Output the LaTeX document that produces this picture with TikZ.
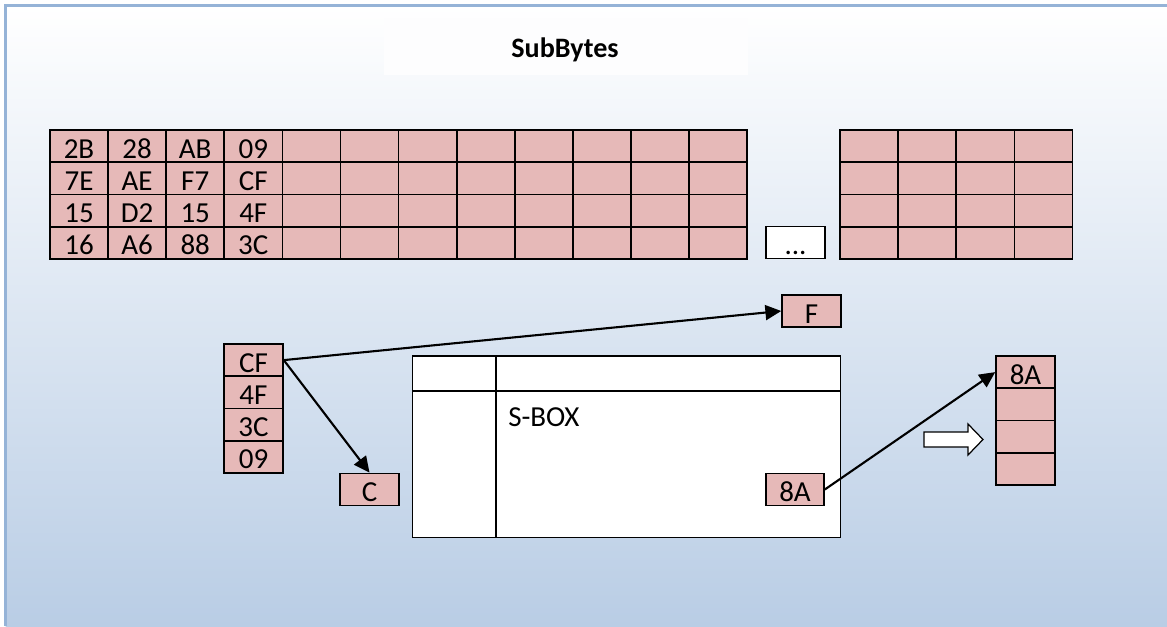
\documentclass[tikz,border=0pt]{standalone}
\usepackage{fontspec}
\setmainfont{Carlito}
\usepackage{tikz}
\usetikzlibrary{positioning,calc,arrows.meta}
\definecolor{cellpink}{HTML}{E6B9B8}
\definecolor{framebl}{HTML}{95B3D7}
\definecolor{bgblue}{HTML}{B9CDE5}

\begin{document}
\begin{tikzpicture}[x=0.02cm,y=-0.02cm,>={Triangle[length=9pt,width=8.5pt]},
    cell/.style={draw,fill=cellpink,line width=0.9pt,inner sep=0pt,
      minimum width=1.16cm,text height=0.565cm,text depth=0.08cm,
      font=\fontsize{16.5}{18}\selectfont},
    box/.style={draw,fill=white,line width=0.9pt,inner sep=0pt}]

  \useasboundingbox (0,0) rectangle (1167,626);
  % background and frame
  \shade[top color=white,bottom color=bgblue] (5.5,5.5) rectangle (1167,626);
  \draw[framebl,line width=1.6pt] (5.5,626) -- (5.5,5.5) -- (1167,5.5);
  \fill[white!98!framebl] (384,18) rectangle (748,75);
  \node[anchor=base,inner sep=0pt,font=\bfseries\fontsize{16}{18}\selectfont]
    (title) at (565,57) {SubBytes};

  % state
  \foreach \row [count=\j from 0] in {{2B,28,AB,09},{7E,AE,F7,CF},{15,D2,15,4F},{16,A6,88,3C}}
    \foreach \val [count=\i from 0] in \row
      \node[cell] (s-\j-\i) at (79+58.1*\i,146.1+32.25*\j) {\val};
  \foreach \j in {0,...,3}
    \foreach \i in {4,...,11}
      \node[cell] (s-\j-\i) at (79+58.1*\i,146.1+32.25*\j) {};
  \node[cell,fill=white,minimum width=1.18cm] (dots) at (795.5,242.5) {...};
  \foreach \j in {0,...,3}
    \foreach \i in {0,...,3}
      \node[cell] (t-\j-\i) at (869.1+58.1*\i,146.1+32.25*\j) {};

  % one column
  \foreach \val [count=\j from 0] in {CF,4F,3C,09}
    \node[cell,minimum width=1.18cm] (col-\j) at (253.5,360.1+32.25*\j) {\val};
  \node[cell,minimum width=1.18cm] (f) at (811.5,311) {F};
  \node[cell,minimum width=1.18cm] (c) at (369.5,489.5) {C};

  % s-box table
  \node[box,minimum width=8.56cm,minimum height=3.63cm] (sbox) at (626.5,446.75) {};
  \draw[line width=0.9pt] ($(sbox.north west)+(0,36)$) -- ($(sbox.north east)+(0,36)$);
  \draw[line width=0.9pt] ($(sbox.north west)+(84,0)$) -- ($(sbox.south west)+(84,0)$);
  \node[anchor=base west,inner sep=0pt,font=\fontsize{16.5}{18}\selectfont]
    (sboxlabel) at (508,426) {S-BOX};
  \node[cell] (sub) at (795,489.5) {8A};

  % result column
  \node[cell,minimum width=1.18cm] (out-0) at (1025.5,372.1) {8A};
  \foreach \j in {1,2,3}
    \node[cell,minimum width=1.18cm] (out-\j) at (1025.5,372.1+32.25*\j) {};
  \draw[fill=white,line width=0.7pt] (924,432) -- (968,432) -- (968,424)
    -- (983,439.5) -- (968,455) -- (968,447) -- (924,447) -- cycle;

  \path[->,line width=1.2pt]
    (col-0.east) edge (f.west)
    (col-0.east) edge (c.north)
    (sub.east) edge (out-0.west);
\end{tikzpicture}
\end{document}
